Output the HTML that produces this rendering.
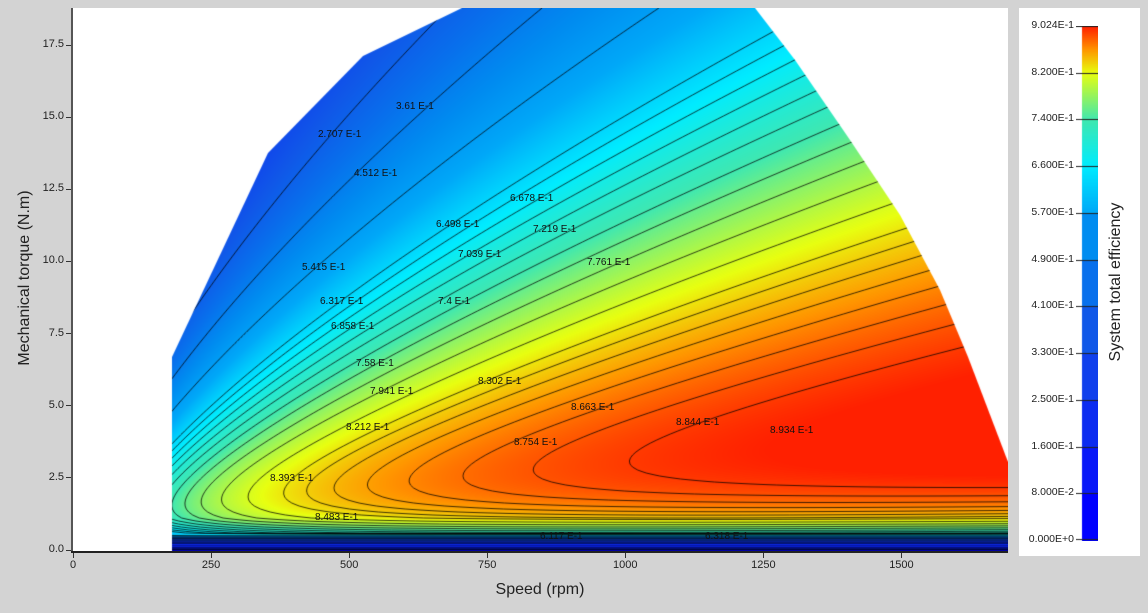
<!DOCTYPE html>
<html><head><meta charset="utf-8"><style>
body{margin:0;width:1148px;height:613px;background:#d3d3d3;position:relative;overflow:hidden;font-family:"Liberation Sans",sans-serif}
#plot{position:absolute;left:73px;top:8px;width:935px;height:543px;background:#fff}
.t{position:absolute;font-size:11px;color:#222}
.lab{position:absolute;font-size:10px;color:#111;white-space:nowrap}
#cb{position:absolute;left:1019px;top:8px;width:121px;height:548px;background:#fff}
</style></head><body>
<div id="plot"><canvas id="c" width="935" height="543"></canvas></div>
<div style="position:absolute;left:71px;top:8px;width:2px;height:545px;background:#555"></div>
<div style="position:absolute;left:71px;top:551px;width:937px;height:2px;background:#222"></div>
<div id="axes"></div>
<div style="position:absolute;left:0;width:1080px;top:581px;text-align:center;font-size:16px;color:#222">Speed (rpm)</div>
<div style="position:absolute;left:25px;top:278px;transform:translate(-50%,-50%) rotate(-90deg);font-size:16px;color:#222;white-space:nowrap">Mechanical torque (N.m)</div>
<div id="cb"></div>
<canvas id="bar" width="22" height="515" style="position:absolute;left:1076px;top:26px"></canvas>
<div style="position:absolute;left:1116px;top:282px;transform:translate(-50%,-50%) rotate(-90deg);font-size:16px;color:#222;white-space:nowrap">System total efficiency</div>
<div id="cbl"></div>
<div id="labels"></div>
<script>
var X0=73,Y0=550,SX=0.5523,SY=28.857;
var ax='';
for(var i=0;i<=6;i++){var x=X0+i*250*SX;ax+='<div style="position:absolute;left:'+(x-0.5)+'px;top:553px;width:1px;height:5px;background:#333"></div><div class="t" style="left:'+(x-20)+'px;width:40px;text-align:center;top:559px">'+(i*250)+'</div>';}
for(var i=0;i<=7;i++){var y=Y0-i*2.5*SY;ax+='<div style="position:absolute;left:66px;top:'+(y-0.5)+'px;width:5px;height:1px;background:#333"></div><div class="t" style="left:20px;width:44px;text-align:right;top:'+(y-7)+'px">'+(i*2.5).toFixed(1)+'</div>';}
document.getElementById('axes').innerHTML=ax;
var vals=[0,0.08,0.16,0.25,0.33,0.41,0.49,0.57,0.66,0.74,0.82,0.9024];
var names=['0.000E+0','8.000E-2','1.600E-1','2.500E-1','3.300E-1','4.100E-1','4.900E-1','5.700E-1','6.600E-1','7.400E-1','8.200E-1','9.024E-1'];
var cols=[[0,0,255],[8,24,248],[12,44,240],[16,64,236],[16,88,232],[8,112,236],[0,140,240],[0,168,248],[0,236,255],[64,232,176],[232,255,16],[255,32,0]];
function colOf(v){if(v<=0)return cols[0];if(v>=0.9024)return cols[11];
 for(var i=0;i<11;i++){if(v<=vals[i+1]){var f=(v-vals[i])/(vals[i+1]-vals[i]);
  if(i==10){var a=[232,255,16],b=[255,150,0],c=[255,32,0];if(f<0.5){f*=2;return [a[0]+(b[0]-a[0])*f,a[1]+(b[1]-a[1])*f,a[2]+(b[2]-a[2])*f];}f=(f-0.5)*2;return [b[0]+(c[0]-b[0])*f,b[1]+(c[1]-b[1])*f,0];}
  var a=cols[i],b=cols[i+1];return [a[0]+(b[0]-a[0])*f,a[1]+(b[1]-a[1])*f,a[2]+(b[2]-a[2])*f];}}}
var bc=document.getElementById('bar').getContext('2d');
for(var y=0;y<515;y++){var p=1-y/514;var i=Math.min(10,Math.floor(p*11));var f=p*11-i;
 if(i<7)f=0; var v=vals[i]+(vals[i+1]-vals[i])*f;var c=colOf(v);bc.fillStyle='rgb('+(c[0]|0)+','+(c[1]|0)+','+(c[2]|0)+')';bc.fillRect(6,y,16,1);}
bc.fillStyle='#222';
var cl='';for(var i=0;i<12;i++){var y=514-i*514/11;bc.fillRect(0,Math.round(y)-(i==0?1:0),22,1);
 cl+='<div class="t" style="left:1022px;width:52px;text-align:right;font-size:10.5px;top:'+(26+y-7)+'px">'+names[i]+'</div>';}
document.getElementById('cbl').innerHTML=cl;
function eff(n,T){if(T<=0.0001)return 0;var w=n*Math.PI/30;var P=T*w;
 var L=1.88*T*T+0.966*Math.pow(T,4)/w+3+0.12*w+0.0004*w*w;var e=P/(P+L);
 if(T<1.1)e*=0.9+0.1*(T/1.1);
 if(T<0.52)e=0.12+0.5*Math.pow(T/0.52,3);
 return Math.min(e,0.9024);}
var cv=document.getElementById('c'),ctx=cv.getContext('2d');
var poly=[[172,551],[172,357],[268,153],[363,56],[462,8],[755,8],[795,60],[850,140],[900,215],[940,290],[968,357],[1008,462],[1008,551]];
ctx.save();ctx.beginPath();poly.forEach(function(p,i){var x=p[0]-73,y=p[1]-8;i?ctx.lineTo(x,y):ctx.moveTo(x,y);});ctx.closePath();ctx.clip();
var W=935,H=543,img=ctx.createImageData(W,H);
function fv(px,py){var n=(px+73-X0)/SX,T=(Y0-(py+8))/SY;return eff(n,T);}
for(var y=0;y<H;y++)for(var x=0;x<W;x++){var c=colOf(fv(x,y));var k=(y*W+x)*4;img.data[k]=c[0];img.data[k+1]=c[1];img.data[k+2]=c[2];img.data[k+3]=255;}
var tmp=document.createElement('canvas');tmp.width=W;tmp.height=H;tmp.getContext('2d').putImageData(img,0,0);ctx.drawImage(tmp,0,0);
var levels=[0.06,0.12,0.18,0.2707,0.361,0.4512,0.5415,0.6317,0.6498,0.6678,0.6858,0.7039,0.7219,0.74,0.758,0.7761,0.7941,0.8122,0.8302,0.8393,0.8483,0.8573,0.8663,0.8754,0.8844,0.8934];
var S=3,gw=Math.ceil(W/S)+1,gh=Math.ceil(H/S)+1,G=[];
for(var j=0;j<gh;j++){G[j]=[];for(var i=0;i<gw;i++)G[j][i]=fv(i*S,j*S);}
ctx.strokeStyle='rgba(0,0,0,0.85)';ctx.lineWidth=0.9;ctx.beginPath();
levels.forEach(function(L){for(var j=0;j<gh-1;j++)for(var i=0;i<gw-1;i++){
 var a=G[j][i],b=G[j][i+1],c=G[j+1][i+1],d=G[j+1][i];var pts=[];
 function e(v1,v2,x1,y1,x2,y2){if((v1<L)!=(v2<L)){var t=(L-v1)/(v2-v1);pts.push([x1+(x2-x1)*t,y1+(y2-y1)*t]);}}
 var x=i*S,y=j*S;e(a,b,x,y,x+S,y);e(b,c,x+S,y,x+S,y+S);e(d,c,x,y+S,x+S,y+S);e(a,d,x,y,x,y+S);
 if(pts.length>=2){ctx.moveTo(pts[0][0],pts[0][1]);ctx.lineTo(pts[1][0],pts[1][1]);}
 if(pts.length==4){ctx.moveTo(pts[2][0],pts[2][1]);ctx.lineTo(pts[3][0],pts[3][1]);}}});
ctx.stroke();
ctx.strokeStyle='rgba(0,0,40,0.6)';ctx.beginPath();for(var yy=529;yy<543;yy+=2.2){ctx.moveTo(99,yy);ctx.lineTo(935,yy);}ctx.stroke();
ctx.restore();
var labs=[[396,101,'3.61 E-1'],[318,129,'2.707 E-1'],[354,168,'4.512 E-1'],[510,193,'6.678 E-1'],[436,219,'6.498 E-1'],[533,224,'7.219 E-1'],[458,249,'7.039 E-1'],[587,257,'7.761 E-1'],[302,262,'5.415 E-1'],[320,296,'6.317 E-1'],[438,296,'7.4 E-1'],[331,321,'6.858 E-1'],[356,358,'7.58 E-1'],[370,386,'7.941 E-1'],[478,376,'8.302 E-1'],[571,402,'8.663 E-1'],[346,422,'8.212 E-1'],[676,417,'8.844 E-1'],[770,425,'8.934 E-1'],[514,437,'8.754 E-1'],[270,473,'8.393 E-1'],[315,512,'8.483 E-1'],[540,531,'6.117 E-1'],[705,531,'6.318 E-1']];
var h='';labs.forEach(function(l){h+='<div class="lab" style="left:'+l[0]+'px;top:'+l[1]+'px">'+l[2]+'</div>';});
document.getElementById('labels').innerHTML=h;
</script>
</body></html>
